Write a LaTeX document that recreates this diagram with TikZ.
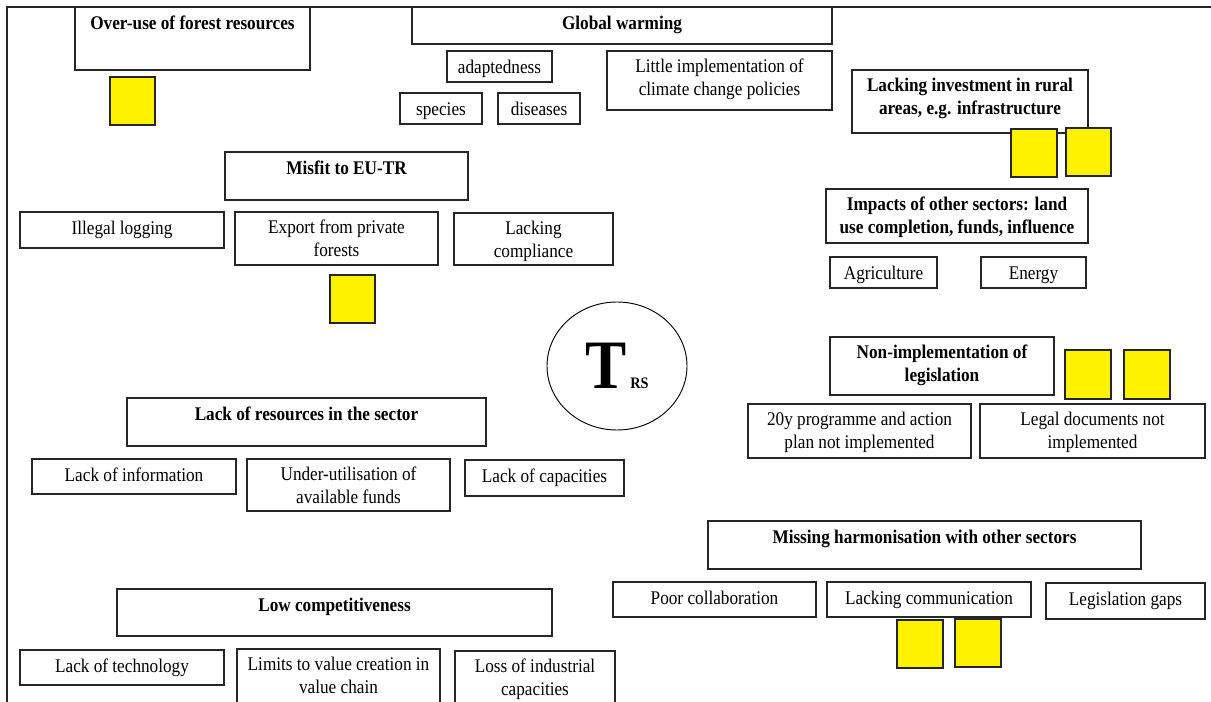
\documentclass[tikz,border=0pt]{standalone}
\usepackage{fontspec}
\setmainfont[FakeStretch=0.89]{Liberation Serif}
\usetikzlibrary{fit,shapes.geometric}

% box with its text set near the top edge
\newcommand{\tbox}[7]{%
  \node[box, fit={(#2,#3) (#4,#5)}] (#1) {};
  \node[#6] (#1-t) at ({(#2+#4)/2},{#3+8}) {#7};
}
% yellow sticky note
\newcommand{\sticky}[5]{%
  \node[note, fit={(#2,#3) (#4,#5)}] (#1) {};
}

\begin{document}
\begin{tikzpicture}[x=0.75pt,y=-0.75pt,
  box/.style={draw=black!85, line width=0.8pt, inner sep=0pt, rectangle},
  note/.style={draw=black!85, fill=yellow, line width=0.8pt, inner sep=0pt, rectangle},
  lbl/.style={anchor=north, inner sep=0pt, align=center,
    font=\fontsize{14.5pt}{17pt}\selectfont,
    execute at begin node=\rule{0pt}{10.5pt}},
  hd/.style={lbl, font=\fontsize{14.5pt}{17pt}\selectfont\bfseries},
  frame/.style={draw=black!85, line width=1.3pt}]

\useasboundingbox (0,0) rectangle (1211,702);

% outer frame (top and left edges)
\coordinate (fr-tr) at (1211,7);
\coordinate (fr-tl) at (7,7);
\coordinate (fr-bl) at (7,702);
\draw[frame] (fr-tr) -- (fr-tl) -- (fr-bl);

% top row
\tbox{overuse}{75}{7}{310}{70}{hd}{Over-use of forest resources}
\tbox{gw}{412}{7}{832}{44}{hd}{Global warming}
\tbox{adapt}{447}{51}{552}{82}{lbl}{adaptedness}
\tbox{species}{400}{93}{482}{124}{lbl}{species}
\tbox{diseases}{498}{93}{580}{124}{lbl}{diseases}
\tbox{climate}{607}{51}{832}{110}{lbl}{Little implementation of\\climate change policies}
\tbox{invest}{852}{70}{1088}{133}{hd}{Lacking investment in rural\\areas, e.g. infrastructure}

% EU-TR group
\tbox{misfit}{225}{152}{468}{200}{hd}{Misfit to EU-TR}
\tbox{illegal}{20}{212}{224}{248}{lbl}{Illegal logging}
\tbox{export}{235}{212}{438}{265}{lbl}{Export from private\\forests}
\tbox{compliance}{454}{213}{613}{265}{lbl}{Lacking\\compliance}

% other sectors
\tbox{impacts}{826}{189}{1088}{243}{hd}{Impacts of other sectors: land\\use completion, funds, influence}
\tbox{agri}{830}{257}{937}{288}{lbl}{Agriculture}
\tbox{energy}{981}{257}{1086}{288}{lbl}{Energy}

% legislation
\tbox{nonimpl}{830}{337}{1054}{395}{hd}{Non-implementation of\\legislation}
\tbox{prog}{748}{404}{971}{458}{lbl}{20y programme and action\\plan not implemented}
\tbox{legal}{980}{404}{1205}{458}{lbl}{Legal documents not\\implemented}

% resources
\tbox{resources}{127}{398}{486}{446}{hd}{Lack of resources in the sector}
\tbox{info}{32}{459}{236}{494}{lbl}{Lack of information}
\tbox{funds}{247}{459}{450}{511}{lbl}{Under-utilisation of\\available funds}
\tbox{capac}{465}{460}{624}{496}{lbl}{Lack of capacities}

% harmonisation
\tbox{harmon}{708}{521}{1141}{569}{hd}{Missing harmonisation with other sectors}
\tbox{collab}{613}{582}{816}{617}{lbl}{Poor collaboration}
\tbox{comm}{827}{582}{1031}{617}{lbl}{Lacking communication}
\tbox{gaps}{1046}{583}{1205}{619}{lbl}{Legislation gaps}

% competitiveness
\tbox{compet}{117}{589}{552}{636}{hd}{Low competitiveness}
\tbox{tech}{20}{650}{224}{685}{lbl}{Lack of technology}
\tbox{valuec}{237}{649}{440}{708}{lbl}{Limits to value creation in\\value chain}
\tbox{industry}{455}{651}{615}{708}{lbl}{Loss of industrial\\capacities}

% centre symbol
\node[draw=black, line width=0.7pt, ellipse, inner sep=0pt,
  minimum width=105pt, minimum height=96pt] (trs) at (617,366) {};
\node[anchor=base, inner sep=0pt, font=\fontsize{52pt}{52pt}\selectfont\bfseries] (trs-T) at (606,388) {T};
\node[anchor=base west, inner sep=0pt, font=\fontsize{12pt}{12pt}\selectfont\bfseries] (trs-RS) at (630,388) {RS};

% sticky notes
\sticky{n1}{110}{77}{155}{125}
\sticky{n2}{330}{275}{375}{323}
\sticky{n3}{1011}{129}{1057}{177}
\sticky{n4}{1066}{128}{1111}{176}
\sticky{n5}{1065}{350}{1111}{399}
\sticky{n6}{1124}{350}{1170}{399}
\sticky{n7}{897}{620}{943}{668}
\sticky{n8}{955}{619}{1001}{667}

\end{tikzpicture}
\end{document}
